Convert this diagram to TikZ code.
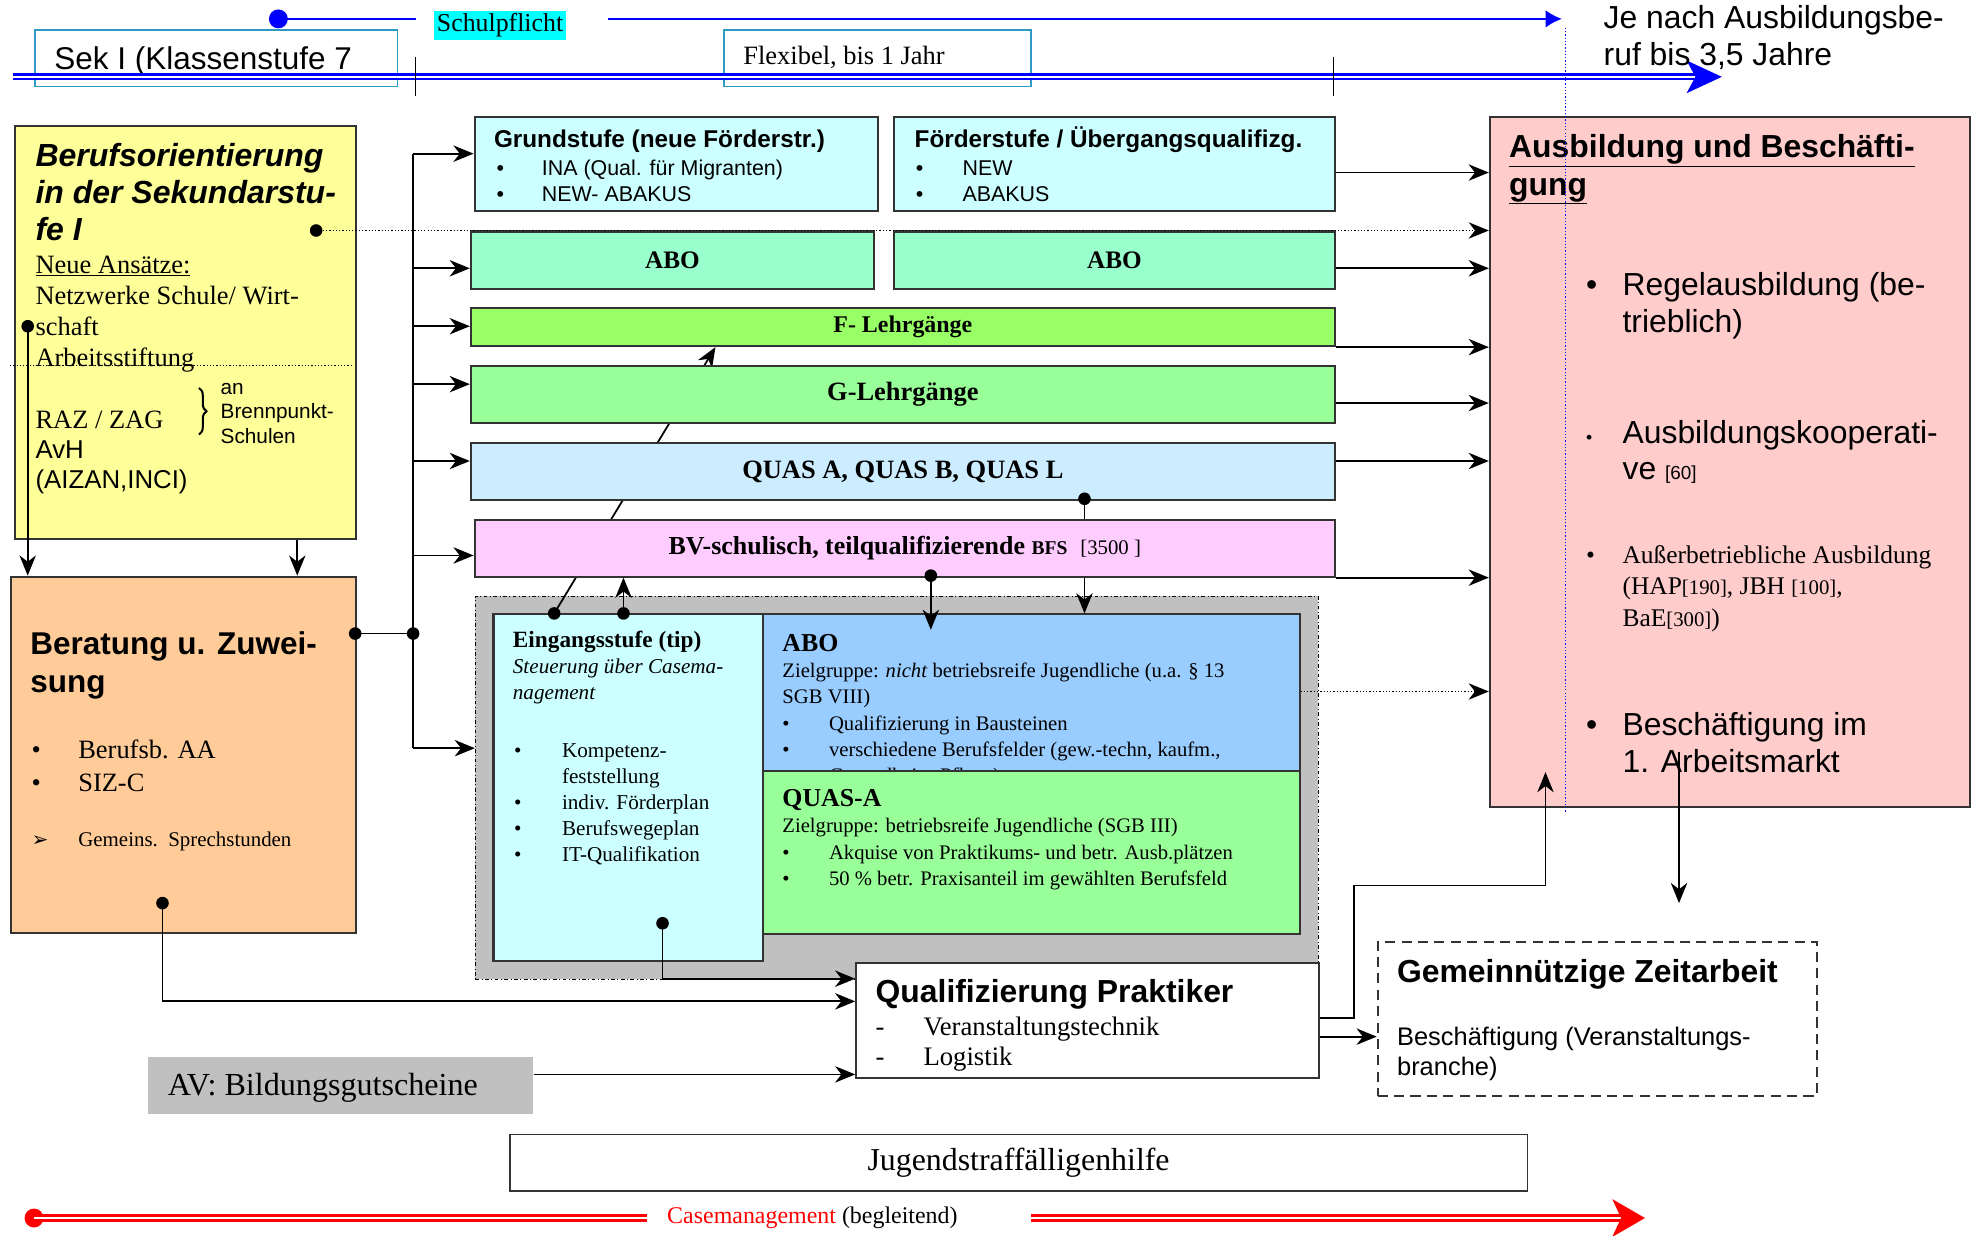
\documentclass[tikz,border=0pt]{standalone}
\usepackage{fontspec}
\setmainfont{Liberation Serif}
\setsansfont{Liberation Sans}
\newfontfamily\symfont{DejaVu Sans}
\usepackage{tikz}
\usetikzlibrary{arrows.meta, positioning, calc, decorations.pathreplacing}
\definecolor{Lemon}{HTML}{FFFF99}
\definecolor{Apricot}{HTML}{FFCC99}
\definecolor{Ice}{HTML}{CCFFFF}
\definecolor{Mint}{HTML}{99FFCC}
\definecolor{Lime}{HTML}{99FF66}
\definecolor{Pale}{HTML}{99FF99}
\definecolor{Sky}{HTML}{CCECFF}
\definecolor{Pink}{HTML}{FFCCFF}
\definecolor{Azure}{HTML}{99CCFF}
\definecolor{Rose}{HTML}{FFCCCC}
\definecolor{Stone}{HTML}{C0C0C0}
\definecolor{Teal}{HTML}{2E9BC6}
\definecolor{Aqua}{HTML}{00FFFF}
\definecolor{Edge}{HTML}{333333}
\newcommand\fsz[2]{\fontsize{#1}{#2}\selectfont}
\newcommand\bul[1]{\makebox[#1][l]{\textbullet}}

\begin{document}
\begin{tikzpicture}[x=1pt, y=-1pt,
    box/.style={draw=Edge, line width=1.6pt, anchor=north west, inner sep=0pt},
    txt/.style={anchor=base west, inner sep=0pt, align=left},
    link/.style={line width=1.4pt},
    arrow/.style={-{Stealth[length=16pt, width=13pt, inset=5pt]}, line width=1.4pt},
    dot/.style={circle, fill=black, inner sep=0pt, minimum size=10pt},
    dots/.style={dash pattern=on 1pt off 1.6pt}
]
\useasboundingbox (0,0) rectangle (1568,981);

\node[box, draw=Teal, line width=1.3pt, minimum width=288pt, minimum height=45pt] (sek) at (27,23) {};
\node[txt, font=\sffamily\fsz{25}{29}] (sekT) at (43,55) {Sek I (Klassenstufe 7};
\node[box, draw=Teal, line width=1.3pt, minimum width=244pt, minimum height=45pt] (flex) at (574,23) {};
\node[txt, font=\fsz{21}{25}] (flexT) at (590,51) {Flexibel, bis 1 Jahr};
\coordinate (tl0) at (10,61);
\coordinate (tl1) at (1346,61);
\draw[blue, line width=2pt, double=white, double distance=1.8pt] (tl0) -- (tl1);
\fill[blue] (1339,48) -- (1367,61) -- (1339,74) -- (1346,61) -- cycle;
\draw[line width=0.9pt] (330,45) -- (330,76);
\draw[line width=0.9pt] (1059,45) -- (1059,76);

\node[circle, fill=blue, inner sep=0pt, minimum size=15pt] (bdot) at (221,15) {};
\node[fill=Aqua, inner sep=2pt, font=\fsz{20.5}{24}] (schul) at (397,20) {Schulpflicht};
\coordinate (bend) at (1240,15);
\draw[blue, line width=1.5pt] (bdot.center) -- (330,15);
\draw[blue, line width=1.5pt, -{Latex[length=13pt, width=14pt]}] (483,15) -- (bend);
\node[txt, font=\sffamily\fsz{25.3}{29}] (je) at (1273,52) {Je nach Ausbildungsbe-\\ruf bis 3,5 Jahre};

\node[box, fill=Lemon, minimum width=271pt, minimum height=328pt] (beruf) at (11,99) {};
\node[txt, font=\sffamily\bfseries\itshape\fsz{25.4}{29.5}] (berufT) at (28,191) {Berufsorientierung\\in der Sekundarstu-\\fe I};
\node[txt, font=\fsz{21}{24.6}] (neu) at (28,291) {\underline{Neue Ansätze:}\\Netzwerke Schule/ Wirt-\\schaft\\Arbeitsstiftung};
\draw[dots, line width=0.9pt] (8,290) -- (280,290);
\node[txt, font=\fsz{21}{24}] (raz) at (28,340) {RAZ / ZAG};
\node[txt, font=\sffamily\fsz{20.5}{24}] (avh) at (28,388) {AvH\\(AIZAN,INCI)};
\draw[decorate, decoration={brace, amplitude=6pt}, line width=1.6pt] (158,308) -- (158,345);
\node[txt, font=\sffamily\fsz{16.5}{19.5}] (brenn) at (175,352) {an\\Brennpunkt-\\Schulen};

\node[box, fill=Apricot, minimum width=274pt, minimum height=283pt] (berat) at (8,457) {};
\node[txt, font=\sffamily\bfseries\fsz{25}{30}] (beratT) at (24,550) {Beratung u. Zuwei-\\sung};
\node[txt, font=\fsz{21}{26}] (beratL) at (25,628) {\bul{37pt}Berufsb. AA\\\bul{37pt}SIZ-C};
\node[txt, font=\fsz{16.6}{19}] (sprech) at (25,672) {\makebox[37pt][l]{\symfont\fsz{16}{18}➢}Gemeins.\ \ Sprechstunden};

\node[box, draw=black, line width=0.7pt, dash dot, fill=Stone, minimum width=669pt, minimum height=304pt] (grp) at (377,473) {};
\node[box, fill=Ice, minimum width=214pt, minimum height=275pt] (eing) at (391,487) {};
\node[txt, font=\bfseries\fsz{18.5}{21}] (eingT) at (407,514) {Eingangsstufe (tip)};
\node[txt, font=\itshape\fsz{16.8}{20}] (eingS) at (407,555) {Steuerung über Casema-\\nagement};
\node[txt, font=\fsz{16.8}{20.7}] (eingL) at (408,684) {\bul{38pt}Kompetenz-\\\hspace*{38pt}feststellung\\\bul{38pt}indiv. Förderplan\\\bul{38pt}Berufswegeplan\\\bul{38pt}IT-Qualifikation};
\node[box, fill=Azure, minimum width=426pt, minimum height=124pt] (aboi) at (605,487) {};
\node[txt, font=\bfseries\fsz{20.5}{24}] (aboT) at (621,517) {ABO};
\node[txt, font=\fsz{16.4}{20.7}] (aboL) at (621,621) {Zielgruppe: \textit{nicht} betriebsreife Jugendliche (u.a. § 13\\SGB VIII)\\\bul{37pt}Qualifizierung in Bausteinen\\\bul{37pt}verschiedene Berufsfelder (gew.-techn, kaufm.,\\\hspace*{37pt}Gesundheit - Pflege)};
\node[box, fill=Pale, minimum width=426pt, minimum height=130pt] (qa) at (605,611) {};
\node[txt, font=\bfseries\fsz{20.5}{24}] (qaT) at (621,640) {QUAS-A};
\node[txt, font=\fsz{16.4}{21}] (qaL) at (621,703) {Zielgruppe: betriebsreife Jugendliche (SGB III)\\\bul{37pt}Akquise von Praktikums- und betr. Ausb.plätzen\\\bul{37pt}50 \% betr. Praxisanteil im gewählten Berufsfeld};

\node[box, fill=Ice, minimum width=320pt, minimum height=75pt] (grund) at (376,92) {};
\node[txt, font=\sffamily\bfseries\fsz{19.3}{22}] (grundT) at (392,117) {Grundstufe (neue Förderstr.)};
\node[txt, font=\sffamily\fsz{17}{21}] (grundL) at (394,160) {\bul{36pt}INA (Qual. für Migranten)\\\bul{36pt}NEW- ABAKUS};
\node[box, fill=Ice, minimum width=350pt, minimum height=75pt] (foerd) at (709,92) {};
\node[txt, font=\sffamily\bfseries\fsz{19.3}{22}] (foerdT) at (726,117) {Förderstufe / Übergangsqualifizg.};
\node[txt, font=\sffamily\fsz{17}{21}] (foerdL) at (727,160) {\bul{37pt}NEW\\\bul{37pt}ABAKUS};
\node[box, fill=Mint, minimum width=320pt, minimum height=46pt, font=\bfseries\fsz{20}{24}] (aboA) at (373,183) {ABO};
\node[box, fill=Mint, minimum width=350pt, minimum height=46pt, font=\bfseries\fsz{20}{24}] (aboB) at (709,183) {ABO};
\node[box, fill=Lime, minimum width=686pt, minimum height=30pt, font=\bfseries\fsz{19}{22}] (flg) at (373,244) {F- Lehrgänge};

\coordinate (e1) at (440,487);
\draw[arrow] (e1) -- (flg.south -| 568,0);

\node[box, fill=Pale, minimum width=686pt, minimum height=45pt, font=\bfseries\fsz{21}{24}] (glg) at (373,290) {G-Lehrgänge};
\node[box, fill=Sky, minimum width=686pt, minimum height=45pt, font=\bfseries\fsz{21}{24}] (quas) at (373,351) {QUAS A, QUAS B, QUAS L};
\node[box, fill=Pink, minimum width=683pt, minimum height=45pt, font=\bfseries\fsz{20.6}{24}] (bv) at (376,412) {BV-schulisch, teilqualifizierende {\fsz{15.5}{18}BFS}\ \ {\mdseries\fsz{16.5}{18}[3500 ]}};

\node[box, fill=white, minimum width=367pt, minimum height=91pt] (qp) at (679,764) {};
\node[txt, font=\sffamily\bfseries\fsz{25.3}{28}] (qpT) at (695,796) {Qualifizierung Praktiker};
\node[txt, font=\fsz{21.2}{24}] (qpL) at (695,846) {\makebox[38pt][l]{-}Veranstaltungstechnik\\\makebox[38pt][l]{-}Logistik};

\node[box, fill=white, dash pattern=on 8pt off 5pt, minimum width=349pt, minimum height=122pt] (zeit) at (1093,747) {};
\node[txt, font=\sffamily\bfseries\fsz{25.3}{29}] (zeitT) at (1109,780) {Gemeinnützige Zeitarbeit};
\node[txt, font=\sffamily\fsz{20.2}{24}] (zeitL) at (1109,854) {Beschäftigung (Veranstaltungs-\\branche)};

\node[box, fill=Rose, minimum width=381pt, minimum height=548pt] (ausb) at (1182,92) {};
\node[txt, font=\sffamily\bfseries\fsz{25.3}{30}] (ausbT) at (1198,155) {\underline{Ausbildung und Beschäfti-}\\\underline{gung}};
\node[txt, font=\sffamily\fsz{25.3}{29}] (ausb1) at (1259,264) {\bul{29pt}Regelausbildung (be-\\\hspace*{29pt}trieblich)};
\node[txt, font=\sffamily\fsz{25.3}{29}] (ausb2) at (1259,381) {\makebox[29pt][l]{\fsz{14}{16}\textbullet}Ausbildungskooperati-\\\hspace*{29pt}ve {\fsz{15}{18}[60]}};
\node[txt, font=\fsz{20.2}{25}] (ausb3) at (1259,497) {\bul{29pt}Außerbetriebliche Ausbildung\\\hspace*{29pt}(HAP{\fsz{16.5}{18}[190]}, JBH {\fsz{16.5}{18}[100]},\\\hspace*{29pt}BaE{\fsz{16.5}{18}[300]})};
\node[txt, font=\sffamily\fsz{25.3}{29}] (ausb4) at (1259,613) {\bul{29pt}Beschäftigung im\\\hspace*{29pt}1. Arbeitsmarkt};

\node[box, draw=none, fill=Stone, minimum width=305pt, minimum height=46pt] (av) at (117,838) {};
\node[txt, font=\fsz{25.5}{28}] (avT) at (133,870) {AV: Bildungsgutscheine};
\node[box, fill=white, line width=1.3pt, minimum width=808pt, minimum height=45pt, font=\fsz{25.3}{28}] (jug) at (404,900) {Jugendstraffälligenhilfe};

\node[dot] (dB) at (251,183) {};
\node[dot] (dS) at (22,259) {};
\node[dot] (dR) at (282,503) {};
\node[dot] (j) at (328,503) {};
\node[dot] (dE1) at (e1) {};
\node[dot] (dE2) at (495,487) {};
\node[dot] (dV) at (739,457) {};
\node[dot] (dQ) at (861,396) {};
\node[dot] (dE3) at (526,733) {};
\node[dot] (dR2) at (129,717) {};

\draw[arrow] (dS.center) -- (berat.north -| dS);
\draw[arrow] (beruf.south -| 236,0) -- (berat.north -| 236,0);
\draw[link] (dR.center) -- (j.center);
\draw[link] (j |- 0,122) -- (j |- 0,594);
\draw[arrow] (j |- 0,122) -- (grund.west |- 0,122);
\draw[arrow] (j |- 0,213) -- (aboA.west |- 0,213);
\draw[arrow] (j |- 0,259) -- (flg.west |- 0,259);
\draw[arrow] (j |- 0,305) -- (glg.west |- 0,305);
\draw[arrow] (j |- 0,366) -- (quas.west |- 0,366);
\draw[arrow] (j |- 0,441) -- (bv.west |- 0,441);
\draw[arrow] (j |- 0,594) -- (grp.west |- 0,594);

\draw[arrow, dots, line width=1pt] (dB.center) -- (ausb.west |- dB);
\draw[arrow] (foerd.east |- 0,137) -- (ausb.west |- 0,137);
\draw[arrow] (aboB.east |- 0,213) -- (ausb.west |- 0,213);
\draw[arrow] (flg.south east) -- (ausb.west |- flg.south);
\draw[arrow] (glg.east |- 0,320) -- (ausb.west |- 0,320);
\draw[arrow] (quas.east |- 0,366) -- (ausb.west |- 0,366);
\draw[arrow] (bv.south east) -- (ausb.west |- bv.south);
\draw[arrow, dots, line width=1pt] (aboi.east |- 0,549) -- (ausb.west |- 0,549);

\draw[arrow] (dE2.center) -- (bv.south -| dE2);
\draw[arrow] (dV.center) -- ($(aboi.north -| dV)+(0,13)$);
\draw[link] (dQ.center) -- (bv.north -| dQ);
\draw[arrow] (bv.south -| dQ) -- (aboi.north -| dQ);

\draw[arrow] (dE3.center) |- (qp.west |- 0,777);
\draw[arrow] (dR2.center) |- (qp.west |- 0,795);
\draw[arrow] (av.east |- 0,853) -- (qp.west |- 0,853);
\draw[arrow] (qp.east |- 0,823) -- (zeit.west |- 0,823);
\coordinate (ausbIn) at (1227,613);
\coordinate (ausbOut) at (1333,597);
\coordinate (zeitTop) at (1333,717);
\draw[arrow] (qp.east |- 0,808) -- (1075,808) -- (1075,703) -| (ausbIn);
\draw[arrow] (ausbOut) -- (zeitTop);

\draw[blue, dots, line width=1pt] (1243,22) -- (1243,645);

\node[circle, fill=red, inner sep=0pt, minimum size=15pt] (rdot) at (27,967) {};
\node[font=\fsz{19}{22}, inner sep=0pt] (cm) at (645,967) {\textcolor{red}{Casemanagement} (begleitend)};
\coordinate (rtip) at (1287,967);
\draw[red, line width=2.8pt, double=white, double distance=1.3pt] (rdot.center) -- ([xshift=-16pt]cm.west);
\draw[red, line width=2.8pt, double=white, double distance=1.3pt] ([xshift=58pt]cm.east) -- (rtip);
\fill[red] (1280,952) -- (1306,967) -- (1280,982) -- (1287,967) -- cycle;
\end{tikzpicture}
\end{document}
